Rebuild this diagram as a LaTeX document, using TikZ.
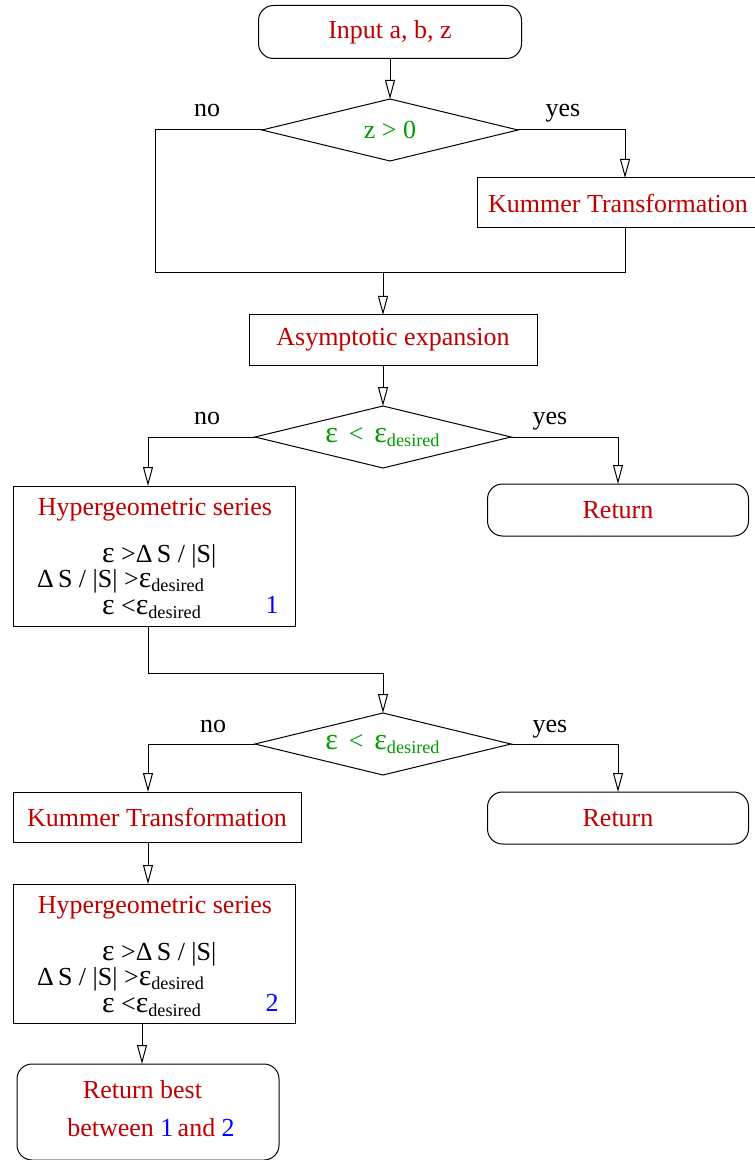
\documentclass[tikz,border=0pt]{standalone}
\usepackage{fontspec}
\setmainfont{Liberation Serif}
\usetikzlibrary{arrows.meta, shapes.geometric}
\definecolor{boxred}{RGB}{192,0,0}
\definecolor{testgreen}{RGB}{0,155,0}
\newcommand{\bigsym}[1]{{\fontsize{15}{15}\selectfont #1}}

\begin{document}
\begin{tikzpicture}[
    x=0.5pt, y=-0.5pt,
    every node/.style={font=\fontsize{13}{15}\selectfont, inner sep=0pt, outer sep=0pt},
    box/.style={rectangle, draw, line width=0.5pt, minimum height=25pt, text=boxred},
    term/.style={box, rounded corners=7.5pt, minimum height=26pt},
    test/.style={diamond, draw, line width=0.5pt, aspect=4.2, minimum width=128pt,
                 minimum height=31pt, text=testgreen},
    answer/.style={anchor=base},
    line/.style={line width=0.5pt},
    arrow/.style={line, -{Triangle[open, length=9.5pt, width=5pt]}}
]
\useasboundingbox (0,0) rectangle (754,1160);

% Input and sign of z
\node[term, minimum width=131.5pt, minimum height=26.5pt] (input) at (390,32) {Input a, b, z};
\node[test] (zpos) at (390,130) {z > 0};
\node[answer] (no1) at (207,117) {no};
\node[answer] (yes1) at (563,117) {yes};
\node[box, minimum width=141pt] (kum1) at (618,203) {Kummer Transformation};
\coordinate (loopl) at (155,273);
\coordinate (loopr) at (625,273);
\coordinate (merge) at (383,273);

% Asymptotic expansion
\node[box, minimum width=144pt] (asym) at (393,340) {Asymptotic expansion};
\node[test] (conv1) at (383,437) {\bigsym{ε}\, < \,\bigsym{ε}\textsubscript{desired}};
\node[answer] (no2) at (207,424) {no};
\node[answer] (yes2) at (550,424) {yes};
\node[term, minimum width=130.5pt] (ret1) at (618,510) {Return};

% First hypergeometric series
\node[box, minimum width=141pt, minimum height=70pt] (hyp1) at (154,556) {};
\node[text=boxred, anchor=base] (hyp1title) at (155,515) {Hypergeometric series};
\node[anchor=base west] (hyp1a) at (102,562) {\bigsym{ε} >Δ\,S / |S|};
\node[anchor=base west] (hyp1b) at (37,587) {Δ\,S / |S| >\bigsym{ε}\textsubscript{desired}};
\node[anchor=base west] (hyp1c) at (102,614) {\bigsym{ε} <\bigsym{ε}\textsubscript{desired}};
\node[text=blue, anchor=base] (hyp1n) at (272,613) {1};
\coordinate (bend) at (383,673);

% Second test
\node[test] (conv2) at (383,744) {\bigsym{ε}\, < \,\bigsym{ε}\textsubscript{desired}};
\node[answer] (no3) at (213,732) {no};
\node[answer] (yes3) at (550,732) {yes};
\node[box, minimum width=144pt] (kum2) at (157,817) {Kummer Transformation};
\node[term, minimum width=130.5pt] (ret2) at (618,818) {Return};

% Second hypergeometric series
\node[box, minimum width=141pt, minimum height=69.5pt] (hyp2) at (154,953.5) {};
\node[text=boxred, anchor=base] (hyp2title) at (155,913) {Hypergeometric series};
\node[anchor=base west] (hyp2a) at (102,960) {\bigsym{ε} >Δ\,S / |S|};
\node[anchor=base west] (hyp2b) at (37,985) {Δ\,S / |S| >\bigsym{ε}\textsubscript{desired}};
\node[anchor=base west] (hyp2c) at (102,1012) {\bigsym{ε} <\bigsym{ε}\textsubscript{desired}};
\node[text=blue, anchor=base] (hyp2n) at (272,1011) {2};

% Best of both
\node[term, minimum width=131pt, minimum height=48pt] (best) at (148,1112) {};
\node[text=boxred, anchor=base] (besta) at (142.5,1098) {Return best};
\node[text=boxred, anchor=base] (bestb) at (151,1136) {between {\color{blue}1}\,and {\color{blue}2}};

% Connectors
\draw[arrow] (input) -- (zpos);
\draw[arrow] (zpos.east) -| ([xshift=3.5pt]kum1.north);
\draw[line] (zpos.west) -| (loopl) -- (loopr) -- ([xshift=3.5pt]kum1.south);
\draw[arrow] (merge) -- (merge |- asym.north);
\draw[arrow] (asym.south -| conv1.north) -- (conv1.north);
\draw[arrow] (conv1.west) -| ([xshift=-3pt]hyp1.north);
\draw[arrow] (conv1.east) -| (ret1.north);
\draw[arrow] ([xshift=-3pt]hyp1.south) |- (bend) -- (conv2.north);
\draw[arrow] (conv2.west) -| ([xshift=-4.5pt]kum2.north);
\draw[arrow] (conv2.east) -| (ret2.north);
\draw[arrow] ([xshift=-4.5pt]kum2.south) -- ([xshift=-3pt]hyp2.north);
\draw[arrow] ([xshift=-6pt]hyp2.south) -- ([xshift=-3pt]best.north);

\end{tikzpicture}
\end{document}
